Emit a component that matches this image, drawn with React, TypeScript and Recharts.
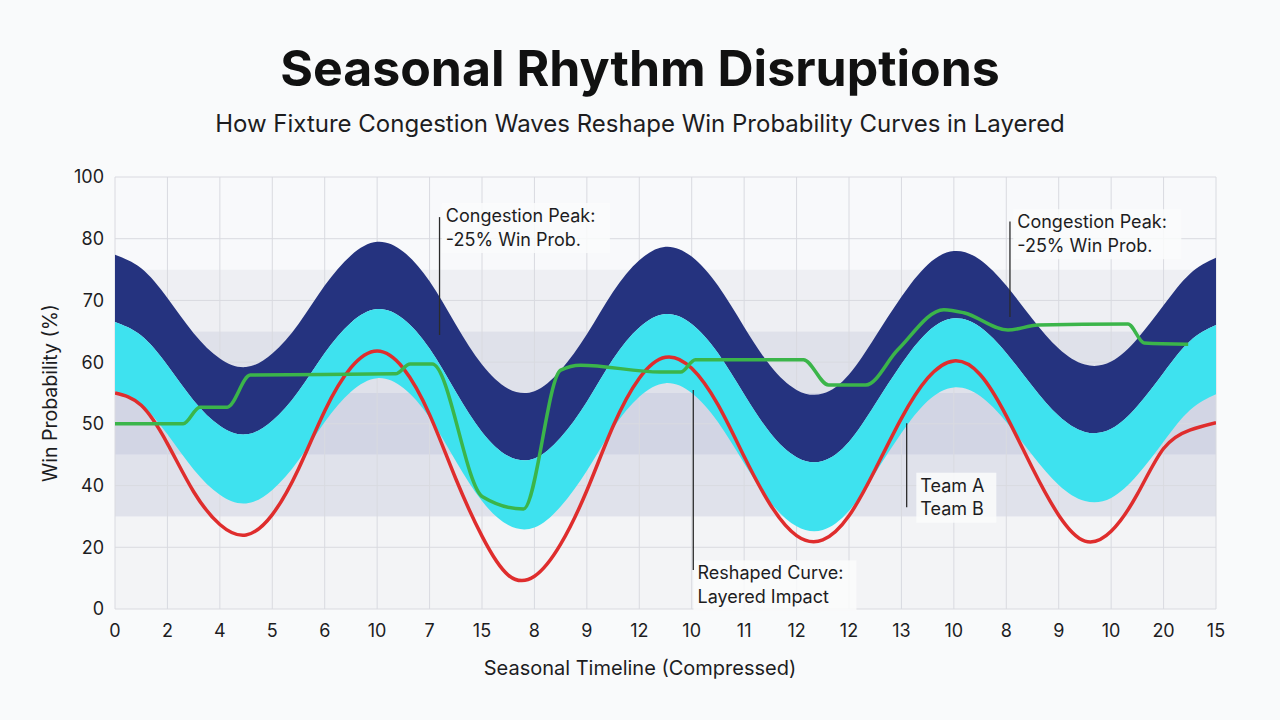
import {
  Area,
  CartesianGrid,
  ComposedChart,
  Line,
  ReferenceArea,
  ReferenceDot,
  ReferenceLine,
  XAxis,
  YAxis
} from "recharts";

const FONT = 'Inter, "Noto Sans", sans-serif';

// tick labels (the y scale is spaced evenly per label, not linearly in %)
const xLabels = ["0", "2", "4", "5", "6", "10", "7", "15", "8", "9", "12", "10", "11", "12", "12", "13", "10", "8", "9", "10", "20", "15"];
const yLabels = ["0", "20", "40", "50", "60", "70", "80", "100"];

// wave bands, sampled every half step of the timeline (values in y-label steps)
const navyTop = [5.74, 5.52, 5.04, 4.47, 4.06, 3.92, 4.14, 4.62, 5.24, 5.73, 5.95, 5.79, 5.31, 4.61, 3.96, 3.57, 3.53, 3.87, 4.45, 5.14, 5.65, 5.87, 5.71, 5.24, 4.57, 3.94, 3.55, 3.49, 3.8, 4.41, 5.06, 5.58, 5.8, 5.66, 5.24, 4.7, 4.22, 3.96, 4.01, 4.38, 4.92, 5.43, 5.69];
const cyanTop = [4.65, 4.43, 3.95, 3.38, 2.97, 2.83, 3.05, 3.53, 4.15, 4.64, 4.86, 4.7, 4.22, 3.52, 2.87, 2.48, 2.44, 2.78, 3.36, 4.05, 4.56, 4.78, 4.62, 4.15, 3.48, 2.85, 2.46, 2.4, 2.71, 3.32, 3.97, 4.49, 4.71, 4.57, 4.15, 3.61, 3.13, 2.87, 2.92, 3.29, 3.83, 4.34, 4.6];
const cyanBottom = [3.53, 3.31, 2.83, 2.26, 1.85, 1.71, 1.93, 2.41, 3.03, 3.52, 3.74, 3.58, 3.1, 2.4, 1.75, 1.36, 1.32, 1.66, 2.24, 2.93, 3.44, 3.66, 3.5, 3.03, 2.36, 1.73, 1.34, 1.28, 1.59, 2.2, 2.85, 3.37, 3.59, 3.45, 3.03, 2.49, 2.01, 1.75, 1.8, 2.17, 2.71, 3.22, 3.48];
const redCurve = [3.5, 3.3, 2.68, 1.9, 1.37, 1.2, 1.53, 2.27, 3.21, 3.91, 4.18, 3.9, 3.15, 2.11, 1.18, 0.55, 0.53, 1.05, 1.92, 2.96, 3.74, 4.08, 3.9, 3.31, 2.47, 1.69, 1.19, 1.12, 1.51, 2.26, 3.09, 3.74, 4.02, 3.8, 3.13, 2.28, 1.52, 1.1, 1.26, 1.86, 2.6, 2.9, 3.02];

// reshaped (green) curve, read at its break points
const greenX = [0, 1.3, 1.62, 2.14, 2.58, 5.35, 5.63, 6.05, 7.01, 7.79, 8.5, 8.88, 10.4, 10.79, 11.07, 13.13, 13.61, 14.32, 14.93, 15.81, 16.19, 17.03, 17.6, 19.32, 19.63, 20.47];
const greenY = [3.0, 3.0, 3.27, 3.27, 3.79, 3.81, 3.97, 3.97, 1.82, 1.62, 3.87, 3.95, 3.84, 3.84, 4.04, 4.04, 3.63, 3.63, 4.2, 4.85, 4.8, 4.52, 4.6, 4.62, 4.31, 4.29];

const rows = navyTop.map((top, i) => ({
  t: i / 2,
  navy: [cyanTop[i], top],
  cyan: [cyanBottom[i], cyanTop[i]],
  red: redCurve[i]
}));
const greenRows = greenX.map((t, i) => ({ t, green: greenY[i] }));

const bands = [
  { y1: 0, y2: 1.5, fill: "#f3f4f6" },
  { y1: 1.5, y2: 2.5, fill: "#e0e2eb" },
  { y1: 2.5, y2: 3.5, fill: "#d2d5e4" },
  { y1: 3.5, y2: 4.5, fill: "#dfe1ea" },
  { y1: 4.5, y2: 5.5, fill: "#eeeff3" },
  { y1: 5.5, y2: 7, fill: "#f8f9fb" }
];

const notes = [
  { x: 6.19, y1: 6.35, y2: 4.44, tx: 6.31, ty: 6.27, w: 168, lines: ["Congestion Peak:", "-25% Win Prob."] },
  { x: 17.07, y1: 6.28, y2: 4.73, tx: 17.21, ty: 6.17, w: 168, lines: ["Congestion Peak:", "-25% Win Prob."] },
  { x: 11.03, y1: 3.55, y2: 0.63, tx: 11.11, ty: 0.48, w: 163, lines: ["Reshaped Curve:", "Layered Impact"] },
  { x: 15.1, y1: 3.01, y2: 1.65, tx: 15.36, ty: 1.9, w: 80, lines: ["Team A", "Team B"] }
];

const tickStyle = { fill: "#1d1d1f", fontSize: 18, fontFamily: FONT };

function NoteText({ cx, cy, w, lines }: any) {
  return (
    <g>
      <rect x={cx - 4} y={cy - 19} width={w} height={50} fill="#fafbfc" fillOpacity={0.85} />
      {lines.map((s: string, i: number) => (
        <text key={i} x={cx} y={cy + i * 23.5} fontSize={18} fontFamily={FONT} fill="#1d1d1f">
          {s}
        </text>
      ))}
    </g>
  );
}

export default function App() {
  return (
    <div style={{ position: "absolute", left: 0, top: 0, width: 1280, height: 720, background: "#f9fafb", fontFamily: FONT }}>
      <ComposedChart width={1280} height={720} data={rows} margin={{ top: 177, right: 64, bottom: 81, left: 55 }}>
        {bands.map((b, i) => (
          <ReferenceArea key={i} y1={b.y1} y2={b.y2} fill={b.fill} fillOpacity={1} stroke="none" zIndex={-200} />
        ))}
        <CartesianGrid stroke="#d9dae0" strokeWidth={1} />
        <XAxis
          dataKey="t"
          type="number"
          domain={[0, 21]}
          ticks={xLabels.map((_, i) => i)}
          tickFormatter={(v: number) => xLabels[v]}
          axisLine={false}
          tickLine={false}
          tickSize={8}
          tickMargin={7}
          height={30}
          tick={tickStyle}
          interval={0}
          allowDataOverflow
        />
        <YAxis
          type="number"
          domain={[0, 7]}
          ticks={yLabels.map((_, i) => i)}
          tickFormatter={(v: number) => yLabels[v]}
          axisLine={false}
          tickLine={false}
          tickSize={6}
          tickMargin={5}
          width={60}
          tick={tickStyle}
          interval={0}
        />
        <Area type="natural" dataKey="navy" stroke="none" fill="#25337f" fillOpacity={1} isAnimationActive={false} />
        <Area type="natural" dataKey="cyan" stroke="none" fill="#3ee2ef" fillOpacity={1} isAnimationActive={false} />
        <Line type="natural" dataKey="red" stroke="#df2d2d" strokeWidth={3.5} dot={false} isAnimationActive={false} />
        <Line data={greenRows} type="monotone" dataKey="green" stroke="#3bb54a" strokeWidth={3.5} dot={false} isAnimationActive={false} />
        {notes.map((n, i) => (
          <ReferenceLine
            key={"l" + i}
            segment={[{ x: n.x, y: n.y1 }, { x: n.x, y: n.y2 }]}
            stroke="#2b2b2b"
            strokeWidth={1.3}
            zIndex={1700}
          />
        ))}
        {notes.map((n, i) => (
          <ReferenceDot
            key={"t" + i}
            x={n.tx}
            y={n.ty}
            zIndex={1600}
            shape={(p: any) => <NoteText cx={p.cx} cy={p.cy} w={n.w} lines={n.lines} />}
          />
        ))}
      </ComposedChart>
      <svg width={1280} height={720} style={{ position: "absolute", left: 0, top: 0, pointerEvents: "none" }}>
        <text x={640} y={86} textAnchor="middle" fontSize={50} fontWeight={700} fill="#111" fontFamily={FONT}>
          Seasonal Rhythm Disruptions
        </text>
        <text x={640} y={132} textAnchor="middle" fontSize={24} fill="#1d1d1f" fontFamily={FONT}>
          How Fixture Congestion Waves Reshape Win Probability Curves in Layered
        </text>
        <text x={640} y={675} textAnchor="middle" fontSize={20} fill="#1d1d1f" fontFamily={FONT}>
          Seasonal Timeline (Compressed)
        </text>
        <text x={57} y={393} transform="rotate(-90 57 393)" textAnchor="middle" fontSize={19.5} fill="#1d1d1f" fontFamily={FONT}>
          Win Probability (%)
        </text>
      </svg>
    </div>
  );
}
